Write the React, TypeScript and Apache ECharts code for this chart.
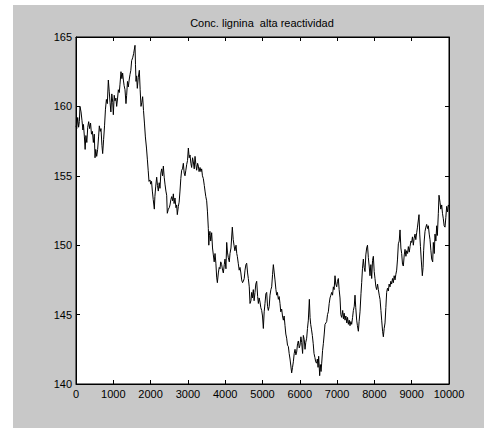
import React, { useEffect, useRef } from "react";
import * as echarts from "echarts";

// Sample number (x) and lignin concentration (y) along the run
const sampleIndex: number[] = [
  0, 20, 45, 70, 90, 107, 135, 160, 185, 200, 225, 245, 265, 290, 315, 340, 365, 390, 415, 440,
  465, 490, 510, 530, 555, 580, 605, 625, 650, 670, 695, 715, 740, 765, 790, 815, 840, 867, 890, 912,
  935, 960, 985, 1001, 1025, 1046, 1070, 1090, 1115, 1135, 1160, 1180, 1206, 1230, 1250, 1270, 1290, 1314, 1340, 1358,
  1380, 1403, 1425, 1448, 1470, 1492, 1519, 1545, 1582, 1595, 1609, 1625, 1644, 1670, 1698, 1720, 1743, 1765, 1787, 1810,
  1835, 1860, 1890, 1913, 1935, 1957, 1984, 2002, 2025, 2047, 2070, 2100, 2115, 2136, 2163, 2185, 2207, 2230, 2252, 2275,
  2297, 2320, 2342, 2365, 2386, 2410, 2431, 2448, 2476, 2500, 2520, 2545, 2565, 2590, 2610, 2630, 2654, 2680, 2699, 2716,
  2744, 2765, 2788, 2810, 2833, 2855, 2878, 2900, 2922, 2945, 2967, 2990, 3012, 3035, 3057, 3080, 3101, 3125, 3146, 3170,
  3191, 3215, 3235, 3260, 3280, 3300, 3325, 3350, 3369, 3390, 3414, 3440, 3459, 3480, 3503, 3525, 3548, 3560, 3575, 3590,
  3611, 3637, 3660, 3682, 3705, 3727, 3750, 3771, 3790, 3816, 3840, 3861, 3880, 3905, 3930, 3950, 3975, 3995, 4020, 4040,
  4060, 4084, 4110, 4129, 4155, 4191, 4215, 4236, 4260, 4290, 4310, 4325, 4350, 4375, 4397, 4420, 4442, 4465, 4486, 4510,
  4531, 4555, 4576, 4600, 4620, 4645, 4665, 4690, 4710, 4730, 4754, 4775, 4799, 4820, 4844, 4870, 4889, 4910, 4933, 4955,
  4978, 5000, 5023, 5045, 5067, 5090, 5112, 5135, 5157, 5180, 5201, 5225, 5246, 5270, 5291, 5315, 5335, 5360, 5380, 5400,
  5425, 5447, 5469, 5490, 5514, 5536, 5559, 5580, 5604, 5625, 5648, 5670, 5693, 5715, 5738, 5760, 5782, 5805, 5827, 5850,
  5872, 5895, 5916, 5940, 5961, 5985, 6006, 6030, 6050, 6075, 6095, 6120, 6140, 6160, 6184, 6206, 6229, 6256, 6275, 6292,
  6315, 6336, 6360, 6381, 6405, 6426, 6450, 6470, 6490, 6506, 6533, 6550, 6570, 6587, 6610, 6631, 6655, 6676, 6700, 6721,
  6743, 6765, 6788, 6810, 6833, 6855, 6878, 6899, 6920, 6944, 6965, 6989, 7010, 7033, 7055, 7078, 7100, 7123, 7150, 7170,
  7190, 7212, 7235, 7260, 7280, 7302, 7325, 7346, 7370, 7391, 7415, 7436, 7460, 7480, 7500, 7525, 7545, 7570, 7590, 7614,
  7640, 7659, 7680, 7704, 7725, 7748, 7770, 7793, 7815, 7838, 7860, 7882, 7905, 7927, 7950, 7972, 7995, 8016, 8040, 8061,
  8085, 8106, 8130, 8151, 8175, 8195, 8220, 8240, 8262, 8285, 8307, 8329, 8350, 8374, 8395, 8419, 8440, 8463, 8485, 8508,
  8530, 8553, 8575, 8597, 8620, 8642, 8665, 8687, 8710, 8731, 8755, 8776, 8800, 8821, 8845, 8865, 8890, 8910, 8935, 8955,
  8980, 8999, 9020, 9044, 9065, 9089, 9110, 9134, 9155, 9196, 9215, 9235, 9255, 9285, 9305, 9320, 9335, 9357, 9380, 9402,
  9425, 9446, 9470, 9491, 9515, 9536, 9563, 9580, 9605, 9625, 9648, 9670, 9688, 9714, 9732, 9759, 9780, 9804, 9825, 9848,
  9870, 9893, 9915, 9938, 9960, 9982, 10000,
];

const concentration: number[] = [
  158.6, 158.4, 159.2, 158.5, 158.9, 160.0, 159.6, 159.0, 158.3, 158.7, 157.8, 156.9, 157.9, 157.4, 158.5, 158.9, 158.4, 158.8, 158.0, 158.2,
  157.4, 158.0, 156.3, 156.9, 156.4, 156.9, 157.8, 158.6, 158.2, 158.4, 157.2, 156.6, 157.6, 158.6, 159.8, 160.5, 160.2, 161.9, 161.1, 160.3,
  159.6, 160.9, 160.3, 159.4, 160.8, 160.4, 160.6, 160.0, 160.6, 161.2, 161.0, 161.6, 162.5, 162.0, 162.4, 161.9, 161.5, 161.2, 160.2, 160.8,
  161.8, 161.4, 161.9, 162.3, 162.6, 163.3, 163.5, 163.8, 164.4, 163.0, 161.8, 162.2, 161.3, 162.1, 162.6, 161.2, 160.0, 160.3, 160.7, 159.7,
  158.8, 157.8, 157.0, 156.2, 155.4, 154.6, 154.7, 154.4, 154.6, 153.9, 153.3, 152.6, 153.5, 154.2, 154.9, 154.3, 153.9, 154.5, 154.1, 155.2,
  155.5, 155.0, 155.7, 154.9, 154.4, 153.9, 153.6, 152.3, 152.6, 152.7, 152.9, 153.3, 153.5, 153.2, 153.7, 153.0, 153.4, 152.7, 152.9, 152.2,
  152.8, 153.1, 153.9, 154.8, 155.4, 155.5, 155.9, 155.2, 155.0, 155.4, 155.8, 156.1, 157.0, 156.3, 156.5, 155.9, 155.6, 156.3, 156.0, 155.5,
  156.4, 155.8, 155.4, 155.9, 155.7, 155.3, 155.6, 155.3, 155.5, 155.0, 154.8, 154.3, 153.9, 153.5, 153.2, 152.4, 151.2, 150.0, 150.7, 151.0,
  150.3, 150.9, 149.8, 149.3, 148.8, 149.4, 148.7, 147.7, 147.3, 148.0, 148.4, 148.3, 148.8, 148.6, 148.2, 148.0, 148.6, 149.0, 148.3, 150.2,
  149.5, 149.1, 148.8, 149.4, 149.8, 151.3, 150.4, 150.0, 149.6, 150.0, 149.4, 149.2, 148.7, 148.2, 148.4, 148.0, 147.5, 147.3, 147.4, 147.6,
  148.2, 148.6, 148.7, 148.0, 147.6, 147.0, 145.8, 146.0, 146.6, 146.2, 146.8, 146.0, 146.6, 147.2, 147.4, 146.3, 145.8, 146.2, 145.9, 145.5,
  145.3, 144.9, 144.0, 145.2, 145.8, 146.5, 146.6, 145.6, 145.3, 145.6, 146.4, 146.8, 147.0, 147.9, 148.6, 148.0, 147.5, 146.8, 146.4, 146.6,
  146.1, 146.3, 145.8, 145.2, 145.4, 144.9, 144.6, 144.9, 144.2, 143.6, 143.3, 142.8, 142.7, 142.2, 141.8, 141.3, 140.8, 141.2, 141.6, 142.2,
  142.5, 142.1, 142.3, 142.9, 143.1, 142.6, 142.8, 143.4, 143.0, 142.2, 143.5, 143.2, 142.5, 143.0, 143.3, 144.0, 144.6, 146.1, 144.8, 144.3,
  143.9, 143.5, 142.9, 142.2, 141.9, 141.6, 141.5, 141.8, 141.2, 142.0, 140.6, 141.4, 140.9, 141.5, 142.4, 142.9, 143.6, 144.3, 144.4, 144.5,
  145.0, 145.2, 145.8, 146.2, 146.4, 146.6, 146.4, 147.0, 146.8, 147.8, 147.2, 147.0, 147.4, 147.6, 146.8, 146.2, 145.0, 144.8, 145.3, 144.7,
  145.1, 144.6, 144.9, 144.4, 144.8, 144.3, 144.6, 144.2, 144.5, 144.3, 144.8, 145.3, 145.6, 146.4, 145.5, 144.6, 144.2, 143.8, 144.5, 145.2,
  146.5, 147.3, 148.3, 149.0, 148.4, 148.1, 149.3, 149.8, 150.0, 149.1, 148.5, 147.8, 148.6, 147.6, 148.9, 149.2, 148.1, 147.6, 147.0, 146.8,
  147.2, 146.8, 146.4, 146.1, 145.3, 144.6, 143.8, 143.4, 144.0, 144.4, 145.5, 146.6, 146.9, 146.7, 147.2, 147.0, 147.4, 147.2, 147.6, 147.3,
  147.8, 147.5, 147.9, 148.2, 149.0, 150.1, 150.3, 151.1, 149.8, 149.4, 148.6, 148.5, 149.3, 149.7, 149.2, 149.6, 149.4, 149.9, 149.5, 149.9,
  150.3, 150.2, 150.6, 150.0, 150.5, 150.8, 150.4, 150.9, 151.3, 152.2, 150.8, 149.9, 149.0, 147.8, 148.4, 149.6, 150.3, 151.0, 151.3, 151.5,
  151.2, 151.4, 150.8, 150.4, 149.6, 149.0, 148.8, 150.2, 149.4, 150.8, 150.3, 151.4, 150.7, 152.3, 153.6, 153.1, 152.6, 152.9, 152.3, 151.9,
  151.4, 151.3, 152.0, 152.8, 152.4, 152.9, 152.8,
];

// Axis tick values
const xTicks: number[] = [0, 1000, 2000, 3000, 4000, 5000, 6000, 7000, 8000, 9000, 10000];
const yTicks: number[] = [140, 145, 150, 155, 160, 165];

const TITLE = "Conc. lignina  alta reactividad";
const FONT = "'Liberation Sans', Arial, Helvetica, sans-serif";

export default function App() {
  const ref = useRef<HTMLDivElement>(null);

  useEffect(() => {
    document.body.style.margin = "0";
    if (!ref.current) return;
    const chart = echarts.init(ref.current, undefined, { renderer: "svg" });

    const points = sampleIndex.map((x, i) => [x, concentration[i]]);
    const xMin = xTicks[0];
    const xMax = xTicks[xTicks.length - 1];
    const xStep = xTicks[1] - xTicks[0];
    const yMin = yTicks[0];
    const yMax = yTicks[yTicks.length - 1];
    const yStep = yTicks[1] - yTicks[0];

    const tick = { show: true, inside: true, length: 4, lineStyle: { color: "#000", width: 1 } };
    const line = { show: true, onZero: false, lineStyle: { color: "#000", width: 1 } };
    const label = {
      color: "#000",
      fontSize: 11,
      fontFamily: FONT,
      margin: 4,
      formatter: (v: number) => String(v),
    };

    const xBase = {
      type: "value" as const,
      min: xMin,
      max: xMax,
      interval: xStep,
      axisLine: line,
      axisTick: tick,
      splitLine: { show: false },
    };
    const yBase = {
      type: "value" as const,
      min: yMin,
      max: yMax,
      interval: yStep,
      axisLine: line,
      axisTick: tick,
      splitLine: { show: false },
    };

    chart.setOption({
      animation: false,
      backgroundColor: "transparent",
      textStyle: { fontFamily: FONT },
      grid: {
        left: 76,
        top: 37,
        width: 373,
        height: 347,
        show: true,
        backgroundColor: "#ffffff",
        borderColor: "#000",
        borderWidth: 1,
      },
      graphic: [
        {
          type: "text",
          x: 262,
          y: 23,
          style: {
            text: TITLE,
            textAlign: "center",
            textVerticalAlign: "middle",
            fontSize: 11,
            fontFamily: FONT,
            fill: "#000",
          },
          silent: true,
        },
      ],
      xAxis: [
        { ...xBase, position: "bottom", axisLabel: label },
        { ...xBase, position: "top", axisLabel: { show: false } },
      ],
      yAxis: [
        { ...yBase, position: "left", axisLabel: label },
        { ...yBase, position: "right", axisLabel: { show: false } },
      ],
      series: [
        {
          type: "line",
          xAxisIndex: 0,
          yAxisIndex: 0,
          data: points,
          showSymbol: false,
          silent: true,
          lineStyle: { color: "#000", width: 1 },
        },
      ],
    });

    return () => chart.dispose();
  }, []);

  return (
    <div style={{ position: "absolute", left: 0, top: 0, width: 484, height: 428, background: "#ffffff" }}>
      <div style={{ position: "absolute", left: 13, top: 5, width: 471, height: 423, background: "#c8c8c8" }} />
      <div ref={ref} style={{ position: "absolute", left: 0, top: 0, width: 484, height: 428 }} />
    </div>
  );
}
